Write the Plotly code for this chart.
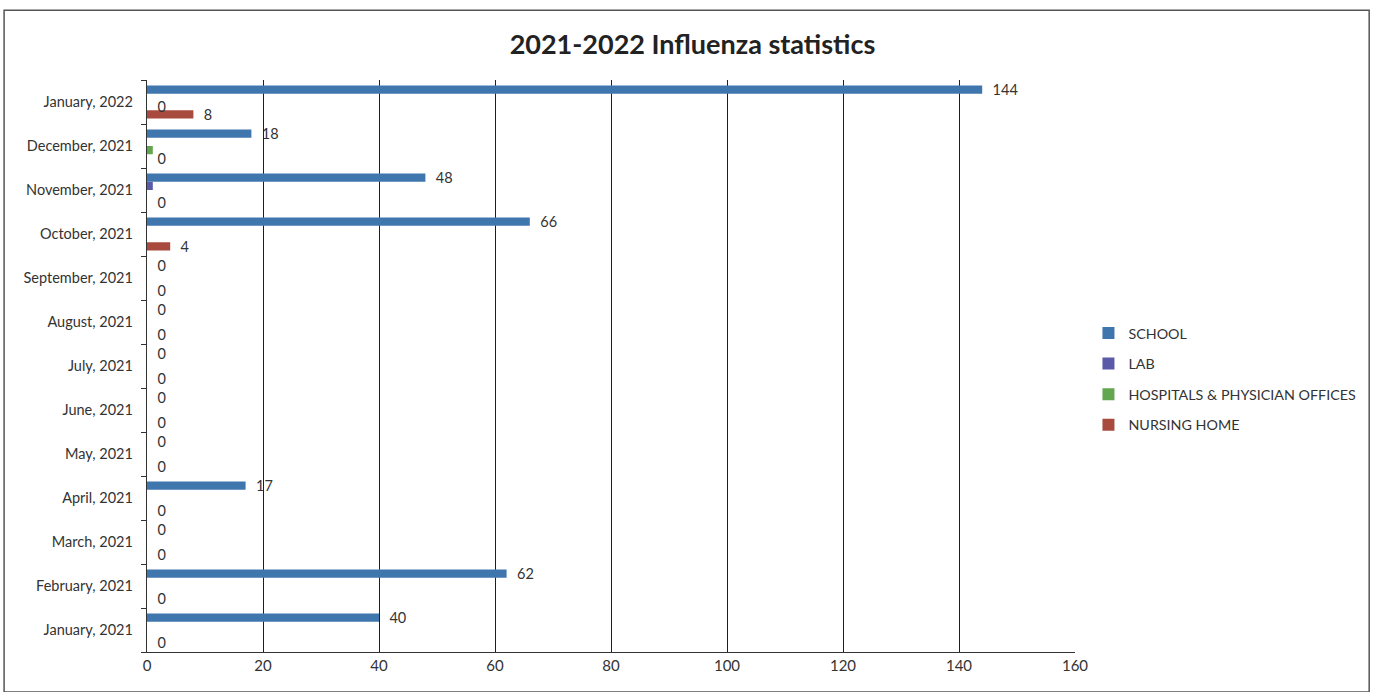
import plotly.graph_objects as go

# Months, listed bottom to top as they appear on the category axis
months = [
    "January, 2021", "February, 2021", "March, 2021", "April, 2021",
    "May, 2021", "June, 2021", "July, 2021", "August, 2021",
    "September, 2021", "October, 2021", "November, 2021",
    "December, 2021", "January, 2022",
]

school = [40, 62, 0, 17, 0, 0, 0, 0, 0, 66, 48, 18, 144]
lab = [0, 0, 0, 0, 0, 0, 0, 0, 0, 0, 1, 0, 0]
hospitals = [0, 0, 0, 0, 0, 0, 0, 0, 0, 0, 0, 1, 0]
nursing_home = [0, 0, 0, 0, 0, 0, 0, 0, 0, 4, 0, 0, 8]

# Which bars carry a data label
school_lbl = [True] * 13
lab_lbl = [False] * 13
hosp_lbl = [False] * 12 + [True]
nh_lbl = [True] * 13

x_ticks = [0, 20, 40, 60, 80, 100, 120, 140, 160]

# Drawn bottom-up within each month; legend rank puts SCHOOL first
series = [
    ("NURSING HOME", nursing_home, nh_lbl, "#a84b3e", 4),
    ("HOSPITALS & PHYSICIAN OFFICES", hospitals, hosp_lbl, "#62a64f", 3),
    ("LAB", lab, lab_lbl, "#5b5aa8", 2),
    ("SCHOOL", school, school_lbl, "#3f76ae", 1),
]

FONT = "Lato, 'Open Sans', sans-serif"
PAD = "\u00a0\u00a0"

fig = go.Figure()
for name, vals, show, color, rank in series:
    fig.add_trace(go.Bar(
        name=name,
        legendgroup=name,
        legendrank=rank,
        y=months,
        x=vals,
        orientation="h",
        marker=dict(color=color, line=dict(width=0)),
        text=[PAD + str(v) if s else "" for v, s in zip(vals, show)],
        textposition="outside",
        cliponaxis=False,
        textfont=dict(family=FONT, size=14.5, color="#333333"),
    ))

fig.update_layout(
    width=1374,
    height=692,
    barmode="group",
    bargap=0.25,
    bargroupgap=0,
    uniformtext=dict(minsize=14.5, mode="show"),
    paper_bgcolor="white",
    plot_bgcolor="white",
    margin=dict(l=147, r=299, t=80, b=40),
    title=dict(
        text="<b>2021-2022 Influenza statistics</b>",
        x=0.504, xanchor="center",
        y=0.936, yanchor="middle",
        font=dict(family=FONT, size=27, color="#222222"),
    ),
    font=dict(family=FONT, size=14, color="#333333"),
    legend=dict(
        traceorder="grouped",
        x=1.0145, xanchor="left",
        y=0.477, yanchor="middle",
        font=dict(family=FONT, size=14.3, color="#333333"),
        tracegroupgap=9,
        itemwidth=30,
    ),
    xaxis=dict(
        range=[0, 160],
        tickvals=x_ticks,
        ticktext=[str(t) for t in x_ticks],
        showgrid=True,
        gridcolor="#1e1e1e",
        gridwidth=1.4,
        showline=True,
        linecolor="#333333",
        linewidth=1.4,
        ticks="",
        zeroline=False,
        tickfont=dict(family=FONT, size=15, color="#333333"),
        fixedrange=True,
    ),
    yaxis=dict(
        showgrid=False,
        showline=True,
        linecolor="#333333",
        linewidth=1.4,
        ticks="outside",
        ticklen=5,
        tickcolor="#333333",
        tickson="boundaries",
        ticklabelstandoff=10,
        tickfont=dict(family=FONT, size=14.5, color="#333333"),
        fixedrange=True,
    ),
    shapes=[
        # outer frame around the whole chart
        dict(type="rect", xref="paper", yref="paper",
             x0=-0.154, x1=1.317, y0=-0.07, y1=1.122,
             line=dict(color="#555555", width=1.5), fillcolor="rgba(0,0,0,0)"),
    ],
)

fig.write_html("out.html")
